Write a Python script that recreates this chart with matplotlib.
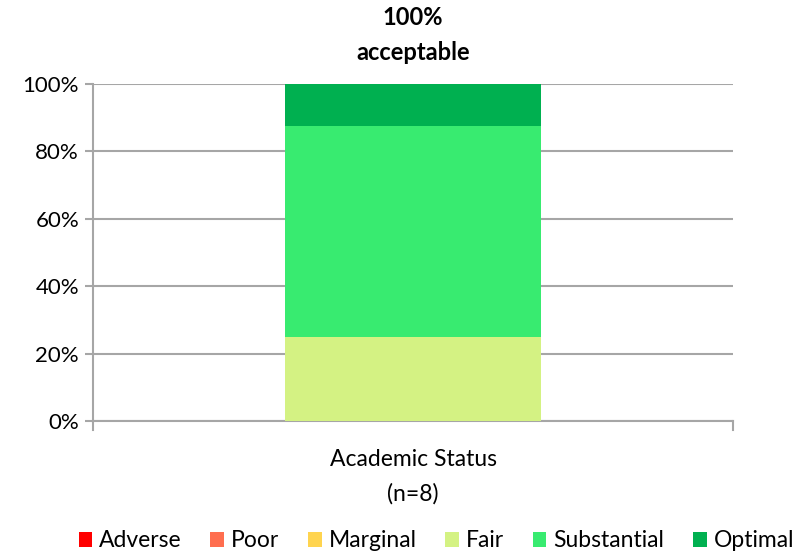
import matplotlib
matplotlib.use("Agg")
import matplotlib.pyplot as plt
from matplotlib.patches import Patch

plt.rcParams["font.family"] = ["Lato", "DejaVu Sans"]

CATEGORIES = ["Academic Status\n(n=8)"]
LEVELS = ["Adverse", "Poor", "Marginal", "Fair", "Substantial", "Optimal"]
SHARES = [0.0, 0.0, 0.0, 25.0, 62.5, 12.5]  # percent of n=8
COLORS = ["#FF0000", "#FF6E4F", "#FFD44F", "#D4F283", "#38EB70", "#00B050"]
HEADLINE = "100%\nacceptable"

GRID = "#A6A6A6"

fig = plt.figure(figsize=(7.99, 5.56), dpi=100)
ax = fig.add_axes([0.1164, 0.2428, 0.8010, 0.6061])

bottom = 0.0
for level, share, color in zip(LEVELS, SHARES, COLORS):
    ax.bar(0, share, width=0.4, bottom=bottom, color=color, label=level, zorder=3)
    bottom += share

ax.set_xlim(-0.5, 0.5)
ax.set_ylim(0, 100)
ax.set_yticks(range(0, 101, 20))
ax.set_yticklabels([f"{v}%" for v in range(0, 101, 20)], fontsize=16)
ax.yaxis.grid(True, color=GRID, linewidth=1.5, zorder=0)
ax.tick_params(axis="y", length=6, width=1.5, color=GRID, pad=4)

ax.set_xticks([0])
ax.set_xticklabels(CATEGORIES, fontsize=16.5, linespacing=1.75)
ax.tick_params(axis="x", length=0, pad=20)
# end ticks on category axis
for xv in (-0.5, 0.5):
    ax.plot([xv, xv], [0, -0.027], transform=ax.get_xaxis_transform(),
            color=GRID, linewidth=1.5, clip_on=False)

for side in ("top", "right"):
    ax.spines[side].set_visible(False)
for side in ("left", "bottom"):
    ax.spines[side].set_color(GRID)
    ax.spines[side].set_linewidth(1.5)

ax.text(0, 106, HEADLINE, ha="center", va="bottom", fontsize=17,
        fontweight="bold", linespacing=1.6)

handles = [Patch(facecolor=c, edgecolor="none", label=l) for l, c in zip(LEVELS, COLORS)]
fig.legend(handles=handles, loc="center", bbox_to_anchor=(0.546, 0.027), ncol=6,
           frameon=False, fontsize=16.5, handlelength=0.6, handleheight=0.6,
           handletextpad=0.3, columnspacing=1.25)

fig.savefig("out.png", dpi=100)
